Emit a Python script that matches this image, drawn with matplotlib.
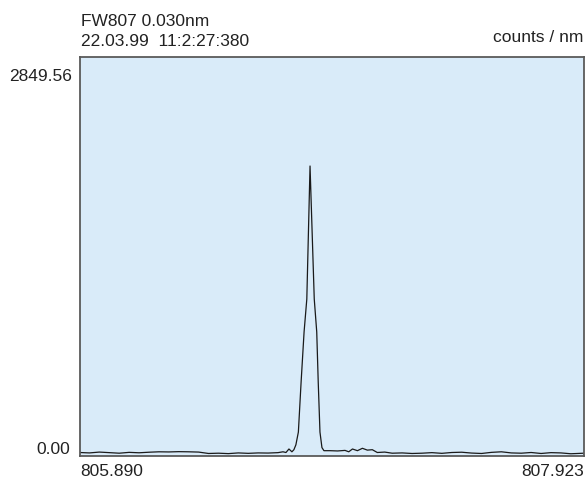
import matplotlib
matplotlib.use("Agg")
import matplotlib.pyplot as plt

# ---- data ----
wavelength_nm = [
    805.890, 805.930, 805.970, 806.010, 806.050, 806.090, 806.130, 806.170,
    806.210, 806.250, 806.290, 806.330, 806.370, 806.410, 806.450, 806.490,
    806.530, 806.570, 806.610, 806.650, 806.690, 806.710,
    806.722, 806.734, 806.746, 806.754, 806.762, 806.772, 806.783, 806.795,
    806.806, 806.819, 806.836, 806.846, 806.852, 806.859, 806.867, 806.875,
    806.900, 806.930, 806.960, 806.975, 806.990, 807.010, 807.030, 807.050,
    807.070, 807.090, 807.120, 807.150, 807.190, 807.230, 807.270, 807.310,
    807.350, 807.390, 807.430, 807.470, 807.510, 807.550, 807.590, 807.630,
    807.670, 807.710, 807.750, 807.790, 807.830, 807.870, 807.923,
]
counts = [
    25, 22, 28, 24, 20, 26, 23, 27,
    30, 29, 31, 30, 28, 18, 20, 17,
    22, 19, 22, 21, 24, 30,
    25, 50, 30, 45, 80, 171, 528, 886,
    1121, 2071, 1121, 886, 528, 171, 60, 38,
    38, 36, 40, 30, 50, 38, 55, 42,
    45, 25, 28, 20, 22, 18, 20, 24,
    19, 25, 27, 21, 18, 26, 30, 22,
    20, 25, 18, 24, 22, 16, 20,
]
x_min, x_max = 805.890, 807.923
y_min, y_max = 0.00, 2849.56
title_line1 = "FW807 0.030nm"
title_line2 = "22.03.99  11:2:27:380"
unit_label = "counts / nm"

W, H = 586, 481
plt.rcParams['font.family'] = ['Liberation Sans', 'DejaVu Sans']
fig = plt.figure(figsize=(W / 100, H / 100), dpi=100)

def fx(px):
    return px / W

def fy(py):
    return 1 - py / H

L, R, T, B = 79.5, 584, 58, 457
ax = fig.add_axes([fx(L), fy(B), fx(R) - fx(L), fy(T) - fy(B)])
ax.set_facecolor('#d9ebf9')
ax.plot(wavelength_nm, counts, color='#1a1a1a', linewidth=0.9)
ax.set_xlim(x_min, x_max)
ax.set_ylim(y_min, y_max)
ax.set_xticks([])
ax.set_yticks([])
for s in ax.spines.values():
    s.set_color('#5a5a5a')
    s.set_linewidth(1.3)

fs = 12.5
tc = '#222222'
fig.text(fx(81), fy(26), title_line1, fontsize=fs, color=tc, ha='left', va='baseline')
fig.text(fx(81), fy(46), title_line2, fontsize=fs, color=tc, ha='left', va='baseline')
fig.text(fx(583), fy(42), unit_label, fontsize=fs, color=tc, ha='right', va='baseline')
fig.text(fx(72), fy(81), f"{y_max:.2f}", fontsize=fs, color=tc, ha='right', va='baseline')
fig.text(fx(70), fy(454), f"{y_min:.2f}", fontsize=fs, color=tc, ha='right', va='baseline')
fig.text(fx(80), fy(476), f"{x_min:.3f}", fontsize=fs, color=tc, ha='left', va='baseline')
fig.text(fx(584), fy(476), f"{x_max:.3f}", fontsize=fs, color=tc, ha='right', va='baseline')

fig.savefig("out.png", dpi=100)
